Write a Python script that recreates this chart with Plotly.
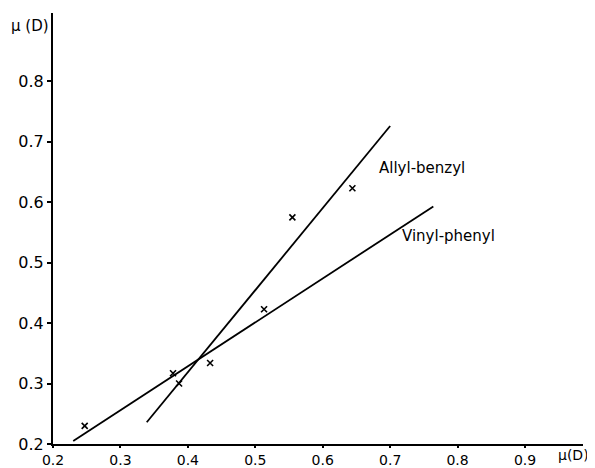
import plotly.graph_objects as go

# Data points (x marks)
pts_x = [0.247, 0.378, 0.387, 0.433, 0.513, 0.555, 0.644]
pts_y = [0.230, 0.317, 0.300, 0.334, 0.423, 0.575, 0.623]

# Fitted lines (endpoints)
allyl_x = [0.339, 0.700]
allyl_y = [0.236, 0.726]
vinyl_x = [0.230, 0.764]
vinyl_y = [0.205, 0.593]

x_ticks = [0.2, 0.3, 0.4, 0.5, 0.6, 0.7, 0.8, 0.9]
x_ticklabels = ["0.2", "0.3", "0.4", "0.5", "0.6", "0.7", "0.8", "0.9"]
y_ticks = [0.2, 0.3, 0.4, 0.5, 0.6, 0.7, 0.8]
y_ticklabels = ["0.2", "0.3", "0.4", "0.5", "0.6", "0.7", "0.8"]

FONT = "DejaVu Sans"

fig = go.Figure()
fig.add_trace(go.Scatter(x=allyl_x, y=allyl_y, mode="lines",
                         line=dict(color="black", width=1.8), showlegend=False))
fig.add_trace(go.Scatter(x=vinyl_x, y=vinyl_y, mode="lines",
                         line=dict(color="black", width=1.8), showlegend=False))
fig.add_trace(go.Scatter(x=pts_x, y=pts_y, mode="markers",
                         marker=dict(symbol="x-thin", size=6, color="black",
                                     line=dict(color="black", width=1.6)),
                         showlegend=False))

fig.add_annotation(x=0.681, y=0.657, text="Allyl-benzyl", showarrow=False,
                   xanchor="left", yanchor="middle",
                   font=dict(family=FONT, size=15, color="black"))
fig.add_annotation(x=0.715, y=0.544, text="Vinyl-phenyl", showarrow=False,
                   xanchor="left", yanchor="middle",
                   font=dict(family=FONT, size=15, color="black"))
fig.add_annotation(xref="paper", yref="paper", x=0, y=1, text="μ (D)",
                   showarrow=False, xanchor="right", yanchor="top", xshift=-2,
                   yshift=-2,
                   font=dict(family=FONT, size=15, color="black"))
fig.add_annotation(xref="paper", yref="paper", x=1, y=0, text="μ(D)",
                   showarrow=False, xanchor="right", yanchor="top", yshift=-1,
                   xshift=8,
                   font=dict(family=FONT, size=14, color="black"))

fig.update_xaxes(range=[0.2, 0.986], tickvals=x_ticks, ticktext=x_ticklabels,
                 showgrid=False, zeroline=False, showline=True, linecolor="black",
                 linewidth=2, ticks="outside", ticklen=2, tickwidth=1.5,
                 tickcolor="black", automargin=False,
                 tickfont=dict(family=FONT, size=14, color="black"))
fig.update_yaxes(range=[0.2, 0.913], tickvals=y_ticks, ticktext=y_ticklabels,
                 showgrid=False, zeroline=False, showline=True, linecolor="black",
                 linewidth=2, ticks="outside", ticklen=4, tickwidth=1.5,
                 tickcolor="black", automargin=False,
                 tickfont=dict(family=FONT, size=16, color="black"))

# page body has an 8px default margin; compensate so the plot lands in place
fig.update_layout(width=587, height=460,
                  margin=dict(l=45, r=12, t=5, b=24),
                  plot_bgcolor="white", paper_bgcolor="white",
                  font=dict(family=FONT, size=15, color="black"))

fig.write_html("out.html")
